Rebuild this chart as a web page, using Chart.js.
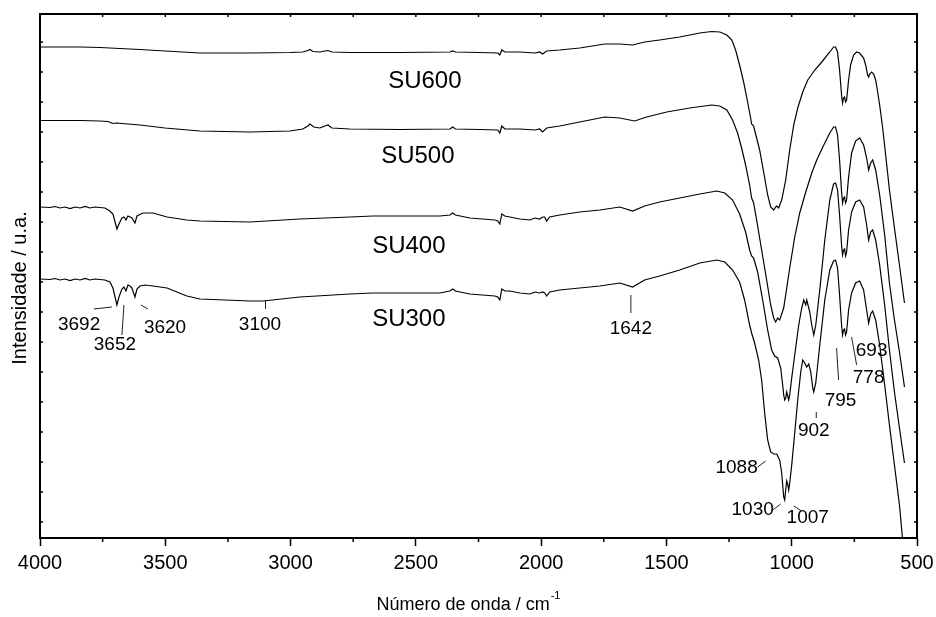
<!DOCTYPE html>
<html>
<head>
<meta charset="utf-8">
<script src="https://cdn.jsdelivr.net/npm/chart.js@4.4.1/dist/chart.umd.min.js"></script>
<style>
  html, body { margin: 0; padding: 0; background: #fff; }
</style>
</head>
<body>
<canvas id="chart" width="936" height="617"></canvas>
<script>
// FTIR spectra of the calcined samples (wavenumber in cm-1, intensity in arbitrary units)
const su600Wn = [4000,3920,3840,3761,3681,3601,3501,3362,3162,3003,2951,2931,2923,2911,2883,2863,2851,2835,2763,2564,2364,2353,2342,2245,2173,2165,2157,2145,2085,2025,2006,1994,1978,1926,1846,1746,1686,1635,1587,1527,1447,1367,1319,1287,1259,1239,1224,1208,1192,1176,1164,1160,1152,1140,1128,1112,1096,1084,1072,1064,1060,1052,1040,1024,1008,992,976,956,936,908,880,848,833,825,817,809,801,797,793,789,785,781,773,765,753,741,729,713,705,697,693,689,681,673,665,657,649,637,625,610,590,570,550];
const su600Int = [491,491,491,490.5,489.5,488.5,487,485,485,485.5,486,487.5,488.5,486.5,486,487,487.5,486,485.5,485.5,486,487,486,485.5,485,483,488,486,486,485,486,484,487,488,490,494,494,493,496,498,501,505,506.5,506,503,498,488,473,456,436,420,414,412,400,388,366,343,331,328,331,332,330,338,358,388,413,430,446,458,468,476,486,491,491,486,468,443,435,440,441,436,438,458,473,483,486,485,480,473,463,461,464,466,464,458,446,433,410,383,348,310,273,235];

const su500Wn = [4000,3920,3840,3761,3729,3709,3693,3673,3601,3501,3362,3162,3003,2951,2931,2923,2907,2883,2863,2851,2835,2763,2564,2364,2353,2342,2245,2173,2165,2157,2145,2085,2025,2006,1994,1978,1926,1846,1746,1686,1627,1579,1499,1407,1319,1287,1259,1236,1216,1200,1184,1168,1160,1152,1140,1120,1100,1084,1072,1064,1056,1048,1032,1024,1008,988,968,944,920,900,876,848,833,825,817,809,801,797,793,789,785,781,773,761,745,729,713,701,693,685,677,665,649,629,610,590,570,550];
const su500Int = [417.5,417.5,417.5,417,416.5,414.5,415,414.5,413,410,407,406,407,409,412,414,411,410,412,413,410,409,408.5,409,411,409,408.5,408,405,412,409,409,408,409,406,410,412,416,421,420,417,421,426,430,433,432,428,418,405,390,373,353,340,335,318,288,258,233,220,216,220,218,230,243,270,301,325,346,365,378,391,405,411,411,403,378,346,335,340,341,335,338,361,385,397,400,393,380,368,375,378,368,343,303,255,218,186,151];

const su400Wn = [4000,3960,3940,3920,3900,3880,3860,3840,3820,3801,3781,3761,3741,3721,3709,3693,3685,3673,3665,3657,3649,3641,3633,3621,3613,3589,3549,3493,3414,3362,3162,2963,2763,2672,2564,2404,2364,2353,2342,2285,2185,2173,2165,2157,2145,2125,2085,2045,2025,2006,1994,1986,1978,1966,1926,1846,1766,1686,1635,1587,1527,1447,1367,1299,1267,1236,1208,1184,1168,1160,1152,1136,1116,1096,1080,1068,1056,1044,1036,1032,1028,1024,1020,1016,1012,1008,1000,988,972,960,952,944,940,936,928,920,912,904,888,868,848,833,825,817,809,801,797,793,789,785,781,773,761,745,729,713,701,693,685,677,665,649,629,610,590,570,550];
const su400Int = [331,330.5,331.5,330,331,329.5,331,330,331.5,330,331,330.5,330,327,324,309,314,320,321,318,322,321,320,315,322,325,325,321,318,317,316,319,321,322,322,322,323,325,323,320,318,317,314,324,322,321,319,318,320,319,321,321,317,321,323,326,328,331,327,332,336,340,344,347,345,338,324,306,288,282,280,266,238,208,188,182,180,170,153,143,138,140,146,142,138,143,160,183,213,230,238,233,238,234,226,213,203,213,248,298,338,354,355,348,323,293,283,288,289,282,286,308,326,336,338,331,313,298,306,308,298,273,233,188,146,110,75];

const su300Wn = [4000,3960,3940,3920,3900,3880,3860,3840,3820,3801,3781,3761,3741,3721,3709,3693,3685,3673,3665,3657,3649,3641,3633,3621,3613,3601,3581,3549,3493,3414,3362,3162,3110,2963,2763,2672,2564,2404,2364,2353,2342,2285,2185,2173,2165,2157,2145,2125,2085,2045,2025,2006,1994,1986,1978,1966,1926,1846,1766,1686,1635,1587,1527,1447,1367,1299,1267,1236,1208,1188,1168,1160,1148,1132,1120,1108,1096,1084,1072,1060,1048,1040,1032,1028,1024,1020,1016,1012,1008,1000,988,976,964,956,948,940,932,924,916,912,904,888,868,848,833,825,817,809,801,797,793,789,785,781,773,761,745,729,713,701,693,685,677,665,649,629,610,590,570,558];
const su300Int = [259,258.5,259.5,258,259,257.5,259,258,259.5,258,259,258.5,258,256,250,233,241,249,251,247,253,252,250,241,249,252,253,252,250,242,239,237,237,241,244,245,245,245,247,249,247,244,242,241,238,249,247,247,245,244,246,245,246,245,242,246,248,250,252,255,251,258,262,268,275,278,276,268,256,238,213,205,195,178,158,125,98,86,84,84,78,65,41,38,48,57,54,48,55,73,105,138,166,178,175,171,174,166,150,146,155,193,238,268,277,278,270,243,213,203,208,209,203,206,228,245,255,257,248,228,215,224,227,218,193,153,113,73,33,0];

// axis ticks
const majorTicks = [500, 1000, 1500, 2000, 2500, 3000, 3500, 4000];
const minorTicks = [750, 1250, 1750, 2250, 2750, 3250, 3750];
const sideTicks = [16, 46, 76, 106, 136, 166, 196, 226, 256, 286, 316, 346, 376, 406, 436, 466, 496];

// sample names and band assignments written on the plot
const sampleTags = [
  { text: 'SU600', wn: 2464, at: 457 },
  { text: 'SU500', wn: 2492, at: 382 },
  { text: 'SU400', wn: 2528, at: 292 },
  { text: 'SU300', wn: 2528, at: 219 }
];
const bandTags = [
  { text: '3692', wn: 3844, at: 213 },
  { text: '3652', wn: 3701, at: 193 },
  { text: '3620', wn: 3501, at: 210 },
  { text: '3100', wn: 3122, at: 213 },
  { text: '1642', wn: 1642, at: 209 },
  { text: '1088', wn: 1220, at: 70 },
  { text: '1030', wn: 1156, at: 28 },
  { text: '1007', wn: 936, at: 20 },
  { text: '902', wn: 912, at: 107 },
  { text: '795', wn: 805, at: 137 },
  { text: '778', wn: 693, at: 160 },
  { text: '693', wn: 681, at: 187 }
];
const leaders = [
  [3785, 229, 3713, 231],
  [3665, 233, 3673, 203],
  [3597, 233, 3569, 229],
  [3100, 238, 3100, 229],
  [1642, 243, 1642, 225],
  [1136, 71, 1104, 77],
  [1076, 28, 1044, 34],
  [992, 32, 960, 27],
  [902, 126, 902, 120],
  [821, 190, 813, 158],
  [761, 201, 741, 173]
];

const FONT = '"Liberation Sans", Arial, Helvetica, sans-serif';

function toPoints(wn, val) {
  return wn.map((w, i) => ({ x: w, y: val[i] }));
}

function spectrum(label, wn, val) {
  return {
    label: label,
    data: toPoints(wn, val),
    borderColor: '#000',
    borderWidth: 1.2,
    pointRadius: 0,
    fill: false,
    tension: 0
  };
}

// frame ticks that Chart.js has no option for (minor and inward ones), plus axis titles
const frameTicks = {
  id: 'frameTicks',
  afterDraw(chart) {
    const { ctx, chartArea: a, scales: { x, y } } = chart;
    ctx.save();
    ctx.strokeStyle = '#000';
    ctx.lineWidth = 1.5;
    ctx.beginPath();
    minorTicks.forEach(w => {
      const px = x.getPixelForValue(w);
      ctx.moveTo(px, a.bottom);
      ctx.lineTo(px, a.bottom + 4);
    });
    majorTicks.concat(minorTicks).forEach(w => {
      const px = x.getPixelForValue(w);
      ctx.moveTo(px, a.top);
      ctx.lineTo(px, a.top + 3);
    });
    sideTicks.forEach(v => {
      const py = y.getPixelForValue(v);
      ctx.moveTo(a.left, py);
      ctx.lineTo(a.left + 3, py);
      ctx.moveTo(a.right, py);
      ctx.lineTo(a.right - 3, py);
    });
    ctx.stroke();

    ctx.fillStyle = '#000';

    // y axis title
    ctx.save();
    ctx.translate(20, 288);
    ctx.rotate(-Math.PI / 2);
    ctx.textAlign = 'center';
    ctx.textBaseline = 'middle';
    ctx.font = '20px ' + FONT;
    ctx.fillText('Intensidade / u.a.', 0, 0);
    ctx.restore();

    // x axis title with superscript
    const main = 'Número de onda / cm';
    const sup = '-1';
    ctx.textBaseline = 'alphabetic';
    ctx.textAlign = 'left';
    ctx.font = '18px ' + FONT;
    const w1 = ctx.measureText(main).width;
    ctx.font = '11px ' + FONT;
    const w2 = ctx.measureText(sup).width;
    const left = 468 - (w1 + w2) / 2;
    ctx.font = '18px ' + FONT;
    ctx.fillText(main, left, 610);
    ctx.font = '11px ' + FONT;
    ctx.fillText(sup, left + w1 + 1, 599);
    ctx.restore();
  }
};

const annotations = {
  id: 'annotations',
  afterDatasetsDraw(chart) {
    const { ctx, scales: { x, y } } = chart;
    ctx.save();
    ctx.fillStyle = '#000';
    ctx.textAlign = 'center';
    ctx.textBaseline = 'middle';
    ctx.font = '24px ' + FONT;
    sampleTags.forEach(t => ctx.fillText(t.text, x.getPixelForValue(t.wn), y.getPixelForValue(t.at)));
    ctx.font = '19px ' + FONT;
    bandTags.forEach(t => ctx.fillText(t.text, x.getPixelForValue(t.wn), y.getPixelForValue(t.at)));
    ctx.strokeStyle = '#222';
    ctx.lineWidth = 1;
    leaders.forEach(l => {
      ctx.beginPath();
      ctx.moveTo(x.getPixelForValue(l[0]), y.getPixelForValue(l[1]));
      ctx.lineTo(x.getPixelForValue(l[2]), y.getPixelForValue(l[3]));
      ctx.stroke();
    });
    ctx.restore();
  }
};

const ctx = document.getElementById('chart').getContext('2d');
new Chart(ctx, {
  type: 'line',
  data: {
    datasets: [
      spectrum('SU600', su600Wn, su600Int),
      spectrum('SU500', su500Wn, su500Int),
      spectrum('SU400', su400Wn, su400Int),
      spectrum('SU300', su300Wn, su300Int)
    ]
  },
  options: {
    responsive: false,
    animation: false,
    devicePixelRatio: 1,
    layout: { padding: { top: 14, right: 19, left: 0, bottom: 0 } },
    plugins: { legend: { display: false }, tooltip: { enabled: false } },
    scales: {
      x: {
        type: 'linear',
        position: 'bottom',
        reverse: true,
        min: 500,
        max: 4000,
        afterBuildTicks: s => { s.ticks = majorTicks.map(v => ({ value: v })); },
        afterFit: s => { s.height = 79; },
        ticks: {
          color: '#000',
          font: { family: FONT, size: 20 },
          padding: 5,
          maxRotation: 0,
          autoSkip: false,
          callback: v => String(v)
        },
        grid: { drawOnChartArea: false, tickLength: 8, tickWidth: 1.5, tickColor: '#000' },
        border: { display: true, color: '#000', width: 2 }
      },
      y: {
        type: 'linear',
        position: 'left',
        min: 0,
        max: 524,
        afterFit: s => { s.width = 40; },
        ticks: { display: false },
        grid: { drawOnChartArea: false, drawTicks: false },
        border: { display: true, color: '#000', width: 2 }
      },
      xTop: {
        type: 'linear',
        position: 'top',
        min: 500,
        max: 4000,
        afterFit: s => { s.height = 0; },
        ticks: { display: false },
        grid: { drawOnChartArea: false, drawTicks: false },
        border: { display: true, color: '#000', width: 2 }
      },
      yRight: {
        type: 'linear',
        position: 'right',
        min: 0,
        max: 524,
        afterFit: s => { s.width = 0; },
        ticks: { display: false },
        grid: { drawOnChartArea: false, drawTicks: false },
        border: { display: true, color: '#000', width: 2 }
      }
    }
  },
  plugins: [frameTicks, annotations]
});
</script>
</body>
</html>
